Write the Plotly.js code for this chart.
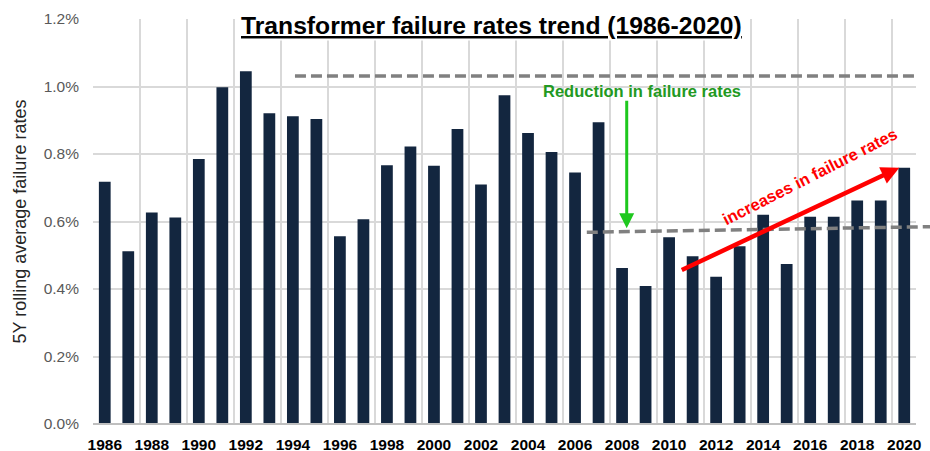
<!DOCTYPE html>
<html>
<head>
<meta charset="utf-8">
<script src="https://cdn.plot.ly/plotly-3.0.1.min.js"></script>
<style>html,body{margin:0;padding:0;background:#fff;}#chart{width:930px;height:451px;}</style>
</head>
<body>
<div id="chart"></div>
<script>
// Data
const years = [1986,1987,1988,1989,1990,1991,1992,1993,1994,1995,1996,1997,1998,1999,2000,2001,2002,2003,2004,2005,2006,2007,2008,2009,2010,2011,2012,2013,2014,2015,2016,2017,2018,2019,2020];
const failureRatePct = [0.718,0.512,0.627,0.612,0.785,0.998,1.045,0.921,0.912,0.904,0.556,0.607,0.767,0.822,0.765,0.874,0.710,0.974,0.862,0.806,0.745,0.894,0.462,0.409,0.553,0.497,0.436,0.527,0.620,0.474,0.614,0.614,0.662,0.662,0.759];
const yTickVals = [0,0.2,0.4,0.6,0.8,1.0,1.2];
const yTickText = ['0.0%','0.2%','0.4%','0.6%','0.8%','1.0%','1.2%'];

const chartTitle = 'Transformer failure rates trend (1986-2020)';
const yTitle = '5Y rolling average failure rates';
const greenLabel = 'Reduction in failure rates';
const redLabel = 'increases in failure rates';

const FONT = 'Liberation Sans, Arial, Helvetica, sans-serif';
const GRID = '#d9d9d9';

const trace = {
  type: 'bar',
  x: years,
  y: failureRatePct,
  marker: {color: '#13263f', line: {width: 0}},
  hoverinfo: 'x+y'
};

const layout = {
  width: 930,
  height: 451,
  margin: {l: 93, r: 14, t: 19, b: 27, pad: 0},
  paper_bgcolor: '#ffffff',
  plot_bgcolor: '#ffffff',
  showlegend: false,
  bargap: 0.5,
  font: {family: FONT},
  xaxis: {
    type: 'linear',
    range: [1985.5, 2020.5],
    tickmode: 'linear',
    tick0: 1986,
    dtick: 2,
    showgrid: false,
    zeroline: false,
    showline: false,
    ticks: '',
    ticklabelstandoff: 9,
    tickfont: {family: FONT, size: 15.5, color: '#000000', weight: 'bold'},
    minor: {tickmode: 'linear', tick0: 1985.5, dtick: 2, showgrid: true, gridcolor: GRID, gridwidth: 2, ticks: ''},
    fixedrange: true
  },
  yaxis: {
    range: [0, 1.2],
    tickmode: 'array',
    tickvals: yTickVals,
    ticktext: yTickText,
    showgrid: true,
    gridcolor: GRID,
    gridwidth: 2,
    zeroline: false,
    showline: false,
    ticks: '',
    ticklabelstandoff: 13,
    tickfont: {family: FONT, size: 15.5, color: '#595959'},
    title: {text: yTitle, font: {family: FONT, size: 18, color: '#262626'}, standoff: 12},
    fixedrange: true
  },
  shapes: [
    // bottom axis line
    {type: 'line', xref: 'paper', yref: 'paper', x0: 0, x1: 1, y0: 0, y1: 0, line: {color: '#bfbfbf', width: 2}, layer: 'above'},
    // upper reference (dashed)
    {type: 'line', xref: 'paper', yref: 'paper', x0: 0.2454, x1: 1.0, y0: 0.8593, y1: 0.8593, line: {color: '#808080', width: 3.5, dash: '11px,5px'}, layer: 'above'},
    // lower reference (dashed) extending past plot edge
    {type: 'line', xref: 'paper', yref: 'paper', x0: 0.600, x1: 1.017, y0: 0.4733, y1: 0.4872, line: {color: '#808080', width: 3.5, dash: '11px,5px'}, layer: 'above'}
  ],
  annotations: [
    {text: '<b><u>' + chartTitle + '</u></b>', xref: 'paper', yref: 'paper', x: 0.4836, y: 0.983, xanchor: 'center', yanchor: 'middle',
     showarrow: false, bgcolor: '#ffffff', font: {family: FONT, size: 24.7, color: '#000000'}},
    {text: '<b>' + greenLabel + '</b>', xref: 'paper', yref: 'paper', x: 0.667, y: 0.823, xanchor: 'center', yanchor: 'middle',
     showarrow: false, font: {family: FONT, size: 16.5, color: '#229922'}},
    // green arrow
    {text: '', xref: 'paper', yref: 'paper', x: 0.6485, y: 0.4832, axref: 'pixel', ayref: 'pixel', ax: 0, ay: -129,
     showarrow: true, arrowhead: 2, arrowsize: 1, arrowwidth: 3, arrowcolor: '#1ec81e', standoff: 0, startstandoff: 0},
    // red arrow
    {text: '', xref: 'paper', yref: 'paper', x: 0.9797, y: 0.6328, axref: 'pixel', ayref: 'pixel', ax: -219, ay: 103,
     showarrow: true, arrowhead: 2, arrowsize: 0.8, arrowwidth: 4.5, arrowcolor: '#ff0000', standoff: 0, startstandoff: 0},
    {text: '<b>' + redLabel + '</b>', xref: 'paper', yref: 'paper', x: 0.8718, y: 0.612, xanchor: 'center', yanchor: 'middle',
     textangle: -27, showarrow: false, font: {family: FONT, size: 16.5, color: '#ff0000'}}
  ]
};

Plotly.newPlot('chart', [trace], layout, {displayModeBar: false, staticPlot: true});
</script>
</body>
</html>
